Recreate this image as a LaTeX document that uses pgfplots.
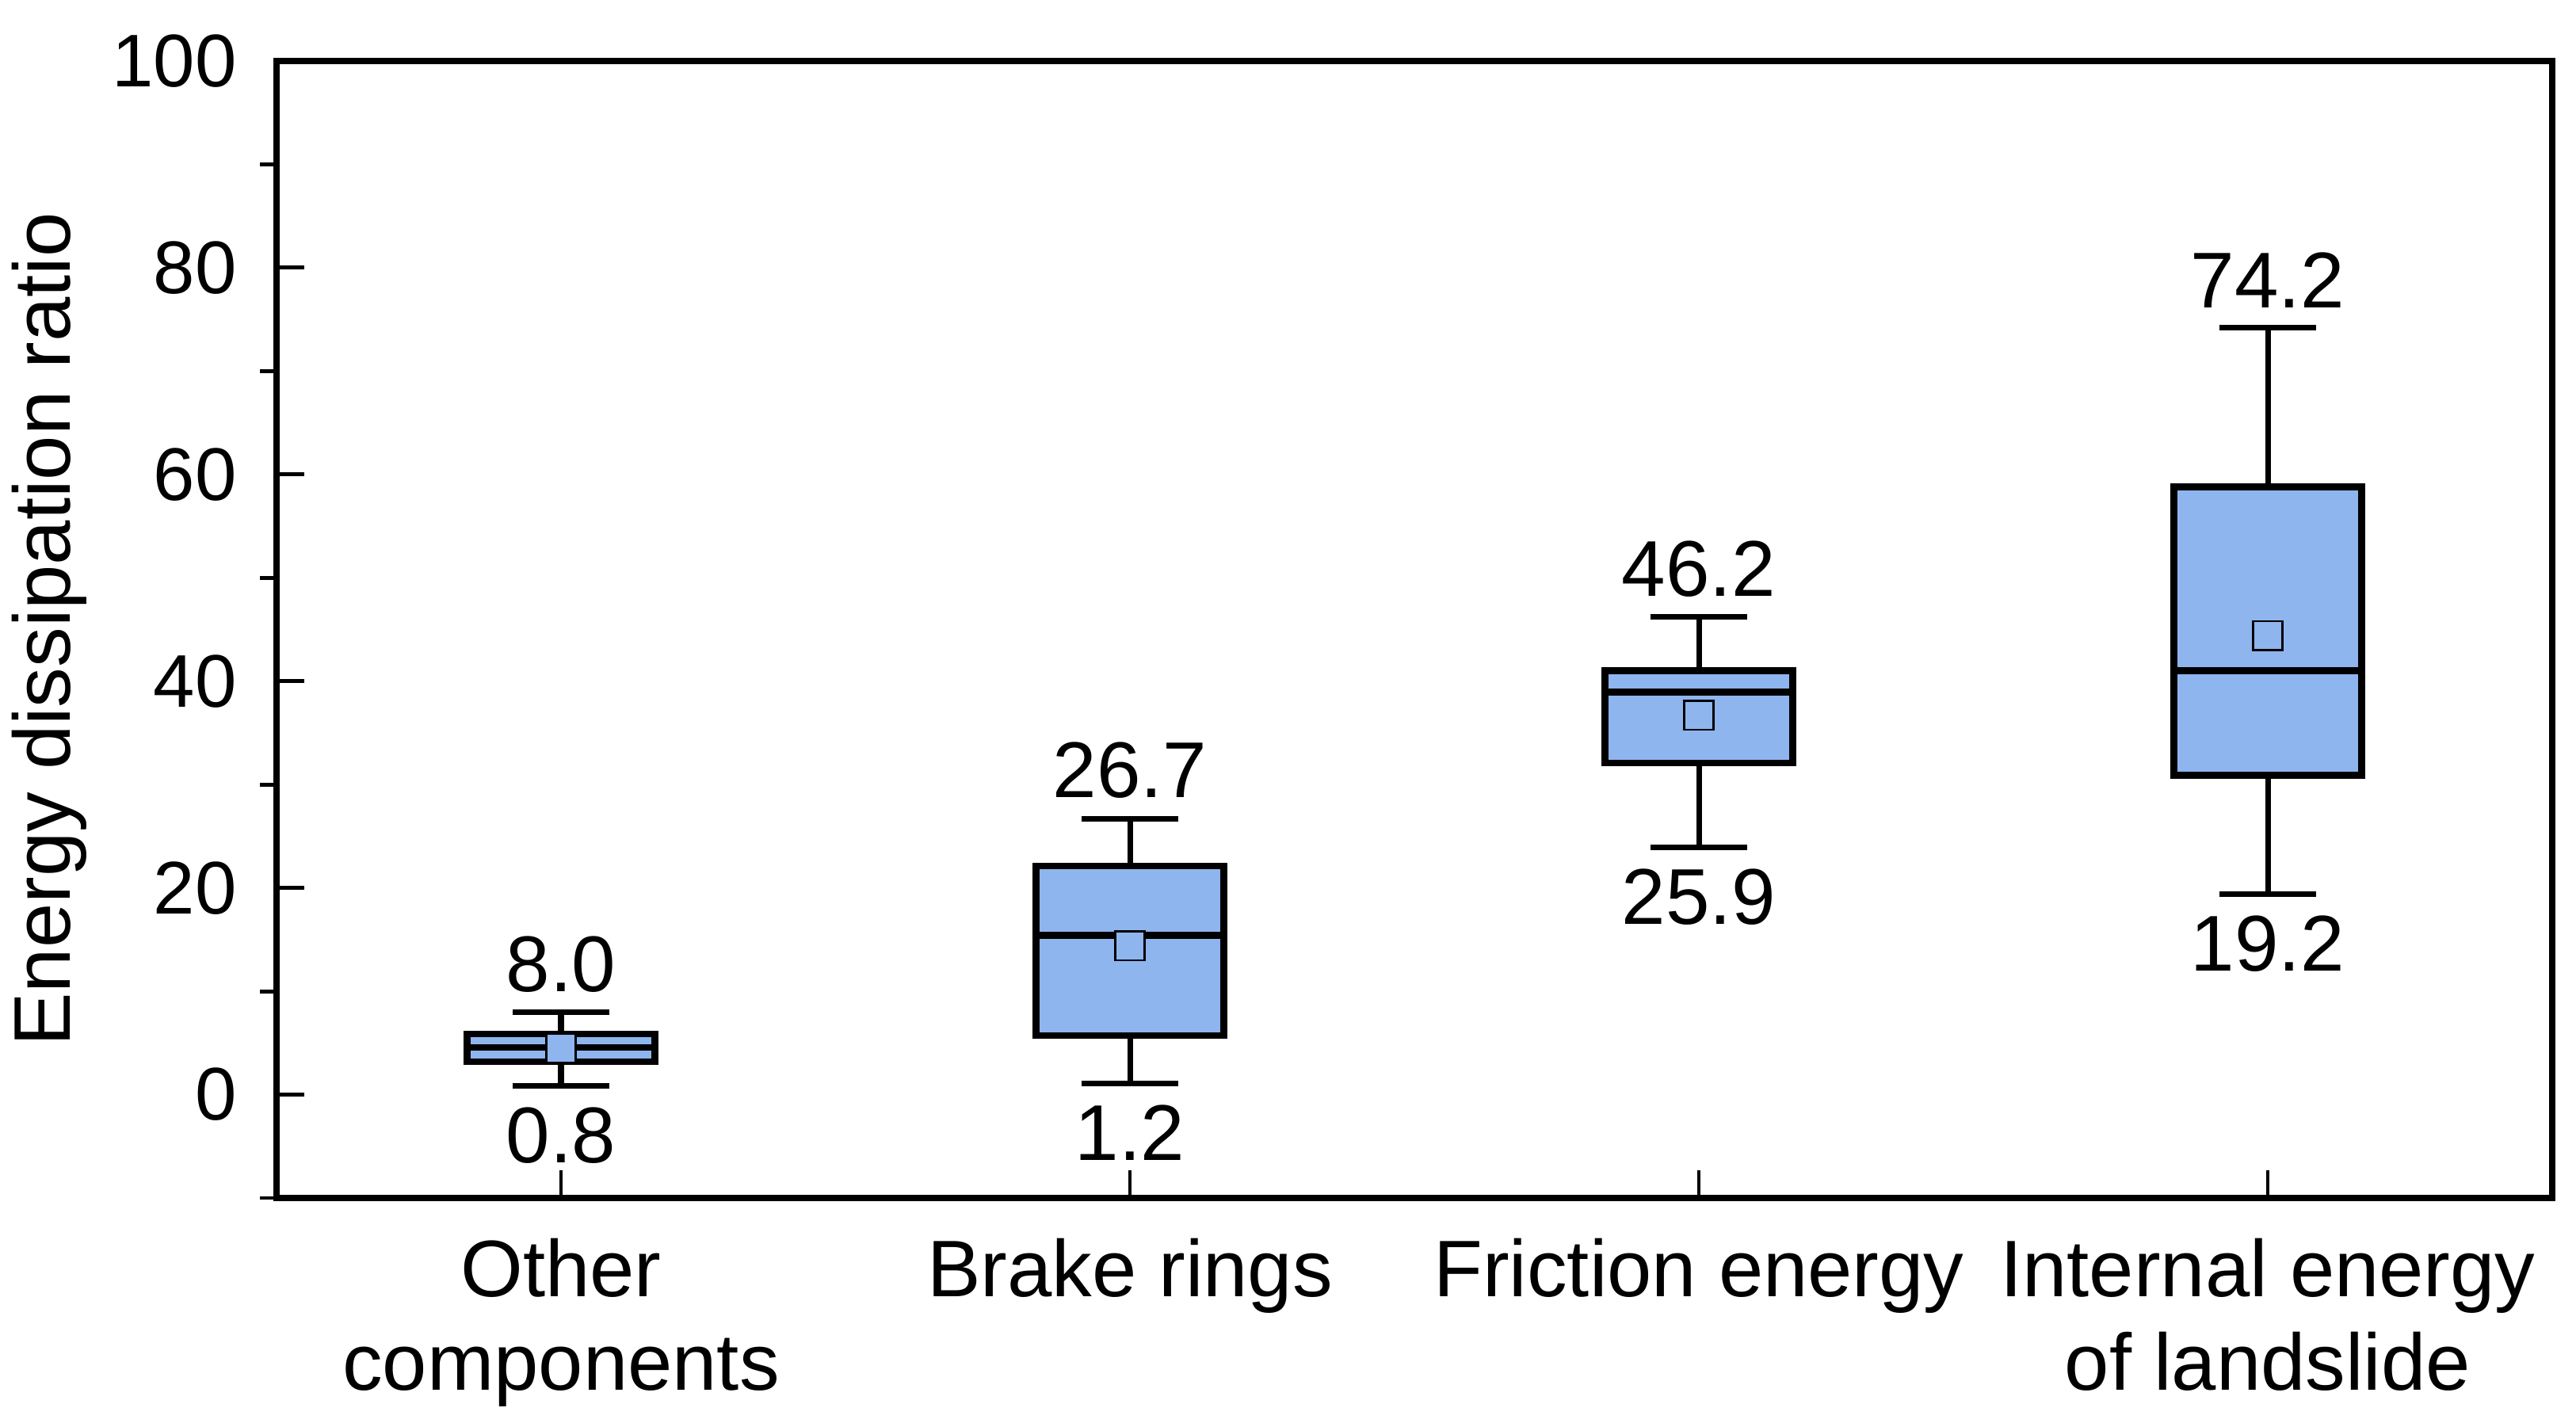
\documentclass[border=0pt]{standalone}
\usepackage{pgfplots}
\pgfplotsset{compat=1.18}
\usepgfplotslibrary{statistics}
\usepackage{fontspec}
\setmainfont{Liberation Sans}
\definecolor{boxblue}{RGB}{142,181,238}
\pgfplotsset{
  mybox/.style={
    boxplot/draw direction=y,
    boxplot/box extend=0.33,
    boxplot/whisker extend=0.17,
    boxplot/every box/.style={fill=boxblue, draw=black, line width=1.2pt},
    boxplot/every whisker/.style={draw=black, line width=1.0pt},
    boxplot/every median/.style={draw=black, line width=1.2pt},
    boxplot/every average/.style={/tikz/mark=square*, /tikz/fill=boxblue, /tikz/every mark/.append style={fill=boxblue, draw=black}},
    draw=black, fill=boxblue, solid, mark=square*, mark size=2.6pt,
    mark options={fill=boxblue, draw=black, line width=0.5pt, solid},
  }
}
\begin{document}
\begin{tikzpicture}
\path[use as bounding box] (-1.745cm,-1.415cm) rectangle (14.51cm,7.56cm);
\begin{axis}[
  at={(0,0)}, anchor=south west,
  scale only axis,
  width=14.36cm, height=7.175cm,
  xmin=-0.5, xmax=3.5, ymin=-10, ymax=100,
  xtick={0,1,2,3},
  xticklabels={{Other\\components},{Brake rings},{Friction energy},{Internal energy\\of landslide}},
  ytick={0,20,40,60,80,100},
  minor ytick={-10,10,30,50,70,90},
  xtick pos=bottom, ytick pos=left,
  tick align=inside,
  major tick length=0.175cm,
  minor tick length=-0.105cm,
  every tick/.style={black, line width=0.7pt},
  axis line style={line width=1.2pt},
  /pgf/number format/assume math mode=true,
  yticklabel style={font=\fontsize{13.4}{15}\selectfont, inner sep=0pt, xshift=-0.245cm},
  xticklabel style={font=\fontsize{14.4}{16.8}\selectfont, align=center, inner sep=0pt, yshift=-0.25cm},
  every axis y label/.style={at={(axis description cs:0,0.5)}, xshift=-1.435cm, rotate=90, anchor=center, font=\fontsize{14.4}{16}\selectfont},
  ylabel={Energy dissipation ratio},
]
\addplot[mybox, boxplot prepared={draw position=0, lower whisker=0.86, lower quartile=3.17, median=4.57, upper quartile=5.85, upper whisker=7.95, average=4.5}] coordinates {};
\addplot[mybox, boxplot prepared={draw position=1, lower whisker=1.1, lower quartile=5.7, median=15.4, upper quartile=22.1, upper whisker=26.7, average=14.4}] coordinates {};
\addplot[mybox, boxplot prepared={draw position=2, lower whisker=23.9, lower quartile=32.1, median=38.95, upper quartile=41.0, upper whisker=46.2, average=36.7}] coordinates {};
\addplot[mybox, boxplot prepared={draw position=3, lower whisker=19.4, lower quartile=30.9, median=41.0, upper quartile=58.8, upper whisker=74.2, average=44.4}] coordinates {};
\begin{scope}[every node/.style={font=\fontsize{14.2}{16}\selectfont, inner sep=0pt}]
\node[anchor=south, yshift=0.12cm] at (axis cs:0,7.95) {8.0};
\node[anchor=north, yshift=-0.13cm] at (axis cs:0,0.86) {0.8};
\node[anchor=south, yshift=0.12cm] at (axis cs:1,26.7) {26.7};
\node[anchor=north, yshift=-0.13cm] at (axis cs:1,1.1) {1.2};
\node[anchor=south, yshift=0.12cm] at (axis cs:2,46.2) {46.2};
\node[anchor=north, yshift=-0.13cm] at (axis cs:2,23.9) {25.9};
\node[anchor=south, yshift=0.12cm] at (axis cs:3,74.2) {74.2};
\node[anchor=north, yshift=-0.13cm] at (axis cs:3,19.4) {19.2};
\end{scope}
\end{axis}
\end{tikzpicture}
\end{document}
